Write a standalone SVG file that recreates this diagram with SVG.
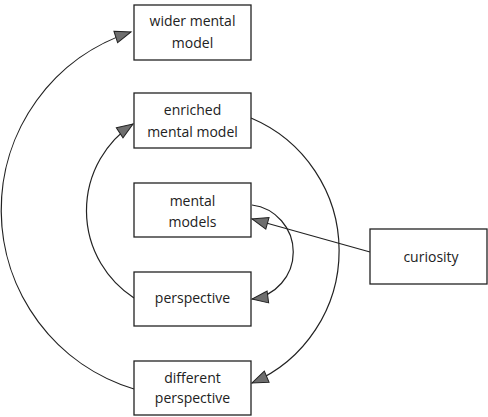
<svg xmlns="http://www.w3.org/2000/svg" width="488" height="417" viewBox="0 0 488 417">
<style>
.box{fill:#fff;stroke:#222;stroke-width:1.3}
.t{font-family:"Open Sans","DejaVu Sans",sans-serif;font-size:14px;fill:#222;text-anchor:middle}
.c{fill:none;stroke:#222;stroke-width:1.2}
</style>
<defs>
<marker id="ah" markerUnits="userSpaceOnUse" markerWidth="20" markerHeight="16" refX="17" refY="7" orient="auto">
<path d="M1,1 L17,7 L1,13 Z" fill="#6e6e6e" stroke="#222" stroke-width="1"/>
</marker>
</defs>
<rect width="488" height="417" fill="#fff"/>
<g id="connectors">
<path class="c" d="M134,389 A187,187 0 0 1 131,32" marker-end="url(#ah)"/>
<path class="c" d="M134,298 A104,104 0 0 1 133,124" marker-end="url(#ah)"/>
<path class="c" d="M251,118 A144,144 0 0 1 252,383" marker-end="url(#ah)"/>
<path class="c" d="M252,205 A47.4,47.4 0 0 1 252,299" marker-end="url(#ah)"/>
<path class="c" d="M370,252 L252,219" marker-end="url(#ah)"/>
</g>
<g id="wider">
<rect class="box" x="134" y="5" width="117" height="55"/>
<text class="t" x="192.5" y="26">wider mental</text>
<text class="t" x="192.5" y="48">model</text>
</g>
<g id="enriched">
<rect class="box" x="134" y="93" width="117" height="55"/>
<text class="t" x="192.5" y="115">enriched</text>
<text class="t" x="192.5" y="137">mental model</text>
</g>
<g id="mental">
<rect class="box" x="134" y="183" width="117" height="54"/>
<text class="t" x="192.5" y="206">mental</text>
<text class="t" x="192.5" y="227">models</text>
</g>
<g id="perspective">
<rect class="box" x="134" y="272" width="117" height="54"/>
<text class="t" x="192.5" y="303">perspective</text>
</g>
<g id="different">
<rect class="box" x="134" y="361" width="117" height="54"/>
<text class="t" x="192.5" y="383">different</text>
<text class="t" x="192.5" y="403">perspective</text>
</g>
<g id="curiosity">
<rect class="box" x="370" y="229" width="117" height="55"/>
<text class="t" x="431" y="262">curiosity</text>
</g>
</svg>
